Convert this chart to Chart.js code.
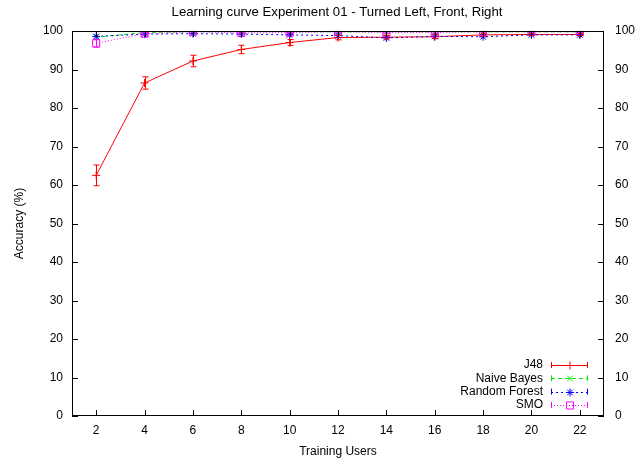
<!DOCTYPE html>
<html>
<head>
<meta charset="utf-8">
<script src="https://cdn.jsdelivr.net/npm/chart.js@4.4.0/dist/chart.umd.min.js"></script>
<style>
  html, body { margin: 0; padding: 0; background: #fff; }
  #wrap { width: 637px; height: 461px; }
</style>
</head>
<body>
<div id="wrap"><canvas id="chart"></canvas></div>
<script>
// values
const users = [2, 4, 6, 8, 10, 12, 14, 16, 18, 20, 22];
const j48 = [62.5, 86.5, 92.2, 95.2, 97.0, 98.3, 98.4, 98.5, 99.0, 99.1, 99.1];
const j48Err = [2.7, 1.6, 1.5, 1.1, 0.8, 0.6, 0.5, 0.5, 0.4, 0.3, 0.3];
const naiveBayes = [98.4, 99.6, 99.8, 99.8, 99.8, 99.8, 99.8, 99.8, 99.8, 99.8, 99.8];
const randomForest = [98.6, 99.2, 99.3, 99.2, 99.0, 98.8, 98.2, 98.6, 98.5, 99.0, 99.0];
const smo = [96.8, 99.3, 99.8, 99.5, 99.6, 99.8, 99.6, 99.6, 99.8, 99.8, 99.8];
const smoErr = [1.0, 0.3, 0.1, 0.2, 0.2, 0.1, 0.2, 0.2, 0.1, 0.1, 0.1];
const yTicks = [0, 10, 20, 30, 40, 50, 60, 70, 80, 90, 100];

const FONT = 'Liberation Sans, Arial, sans-serif';

const series = [
  { label: 'J48', data: j48, err: j48Err, color: '#ff0000', dash: [], style: 'cross', r: 4 },
  { label: 'Naive Bayes', data: naiveBayes, color: '#00ee00', dash: [4, 3], style: 'crossRot', r: 4 },
  { label: 'Random Forest', data: randomForest, color: '#0000ff', dash: [2, 3], style: 'star', r: 4 },
  { label: 'SMO', data: smo, err: smoErr, color: '#ff00ff', dash: [1, 2], style: 'rect', r: 5 },
];

// error bars, frame with inward ticks, title and legend like gnuplot
const gnuplotLook = {
  id: 'gnuplotLook',
  afterDatasetsDraw(chart) {
    const ctx = chart.ctx;
    const x = chart.scales.x, y = chart.scales.y;
    ctx.save();
    series.forEach(s => {
      if (!s.err) return;
      ctx.strokeStyle = s.color;
      ctx.lineWidth = 1;
      ctx.setLineDash([]);
      s.data.forEach((v, i) => {
        const px = Math.round(x.getPixelForValue(users[i])) + 0.5;
        const top = y.getPixelForValue(v + s.err[i]);
        const bot = y.getPixelForValue(v - s.err[i]);
        ctx.beginPath();
        ctx.moveTo(px, top); ctx.lineTo(px, bot);
        ctx.moveTo(px - 3, top); ctx.lineTo(px + 3, top);
        ctx.moveTo(px - 3, bot); ctx.lineTo(px + 3, bot);
        ctx.stroke();
      });
    });

    const a = chart.chartArea;
    ctx.strokeStyle = '#000';
    ctx.lineWidth = 1;
    ctx.strokeRect(a.left + 0.5, a.top + 0.5, a.right - a.left - 1, a.bottom - a.top - 1);
    ctx.beginPath();
    yTicks.forEach(v => {
      const py = Math.round(y.getPixelForValue(v)) + 0.5;
      ctx.moveTo(a.left, py); ctx.lineTo(a.left + 6, py);
      ctx.moveTo(a.right, py); ctx.lineTo(a.right - 6, py);
    });
    users.forEach(v => {
      const px = Math.round(x.getPixelForValue(v)) + 0.5;
      ctx.moveTo(px, a.bottom); ctx.lineTo(px, a.bottom - 6);
      ctx.moveTo(px, a.top); ctx.lineTo(px, a.top + 6);
    });
    ctx.stroke();

    ctx.fillStyle = '#000';
    ctx.font = '13.2px ' + FONT;
    ctx.textAlign = 'center';
    ctx.textBaseline = 'middle';
    ctx.fillText('Learning curve Experiment 01 - Turned Left, Front, Right', 337, 12);

    // legend
    ctx.font = '12px ' + FONT;
    ctx.textAlign = 'right';
    const lx1 = 551, lx2 = 588;
    series.forEach((s, i) => {
      const ly = 365 + i * 13.3;
      ctx.fillStyle = '#000';
      ctx.fillText(s.label, 543, ly);
      ctx.strokeStyle = s.color;
      ctx.fillStyle = 'rgba(0,0,0,0)';
      ctx.setLineDash(s.dash);
      ctx.beginPath();
      ctx.moveTo(lx1, Math.round(ly) + 0.5); ctx.lineTo(lx2, Math.round(ly) + 0.5);
      ctx.stroke();
      ctx.setLineDash([]);
      ctx.beginPath();
      ctx.moveTo(lx1 + 0.5, ly - 3); ctx.lineTo(lx1 + 0.5, ly + 3);
      ctx.moveTo(lx2 - 0.5, ly - 3); ctx.lineTo(lx2 - 0.5, ly + 3);
      ctx.stroke();
      Chart.helpers.drawPoint(ctx, { pointStyle: s.style, radius: s.r, borderWidth: 1 }, 570, Math.round(ly) + 0.5);
    });
    ctx.restore();
  }
};

const tickFont = { family: FONT, size: 12 };

new Chart(document.getElementById('chart'), {
  type: 'line',
  data: {
    datasets: series.map((s, i) => ({
      label: s.label,
      data: s.data.map((v, k) => ({ x: users[k], y: v })),
      borderColor: s.color,
      backgroundColor: 'rgba(0,0,0,0)',
      borderWidth: 1,
      borderDash: s.dash,
      pointStyle: s.style,
      pointRadius: s.r,
      pointBorderWidth: 1,
      pointBorderColor: s.color,
      tension: 0,
      order: series.length - i,
    })),
  },
  options: {
    responsive: true,
    maintainAspectRatio: false,
    animation: false,
    layout: { padding: { top: 31, left: 0, right: 0, bottom: 0 } },
    plugins: { legend: { display: false }, tooltip: { enabled: false } },
    scales: {
      x: {
        type: 'linear',
        min: 1,
        max: 23,
        afterBuildTicks: (scale) => { scale.ticks = users.map(v => ({ value: v })); },
        afterFit: (scale) => { scale.height = 45; },
        grid: { display: false, drawTicks: false, tickLength: 0 },
        border: { display: false },
        ticks: { color: '#000', font: tickFont, padding: 7, maxRotation: 0 },
        title: { display: true, text: 'Training Users', color: '#000', font: tickFont, padding: { top: 0, bottom: 2 } },
      },
      y: {
        type: 'linear',
        position: 'left',
        min: 0,
        max: 100,
        afterBuildTicks: (scale) => { scale.ticks = yTicks.map(v => ({ value: v })); },
        afterFit: (scale) => { scale.width = 72; },
        grid: { display: false, drawTicks: false, tickLength: 0 },
        border: { display: false },
        ticks: { color: '#000', font: tickFont, padding: 9 },
        title: { display: true, text: 'Accuracy (%)', color: '#000', font: tickFont, padding: { top: 12, bottom: 0 } },
      },
      y2: {
        type: 'linear',
        position: 'right',
        min: 0,
        max: 100,
        afterBuildTicks: (scale) => { scale.ticks = yTicks.map(v => ({ value: v })); },
        afterFit: (scale) => { scale.width = 33; },
        grid: { display: false, drawTicks: false, tickLength: 0 },
        border: { display: false },
        ticks: { color: '#000', font: tickFont, padding: 11 },
      },
    },
  },
  plugins: [gnuplotLook],
});
</script>
</body>
</html>
